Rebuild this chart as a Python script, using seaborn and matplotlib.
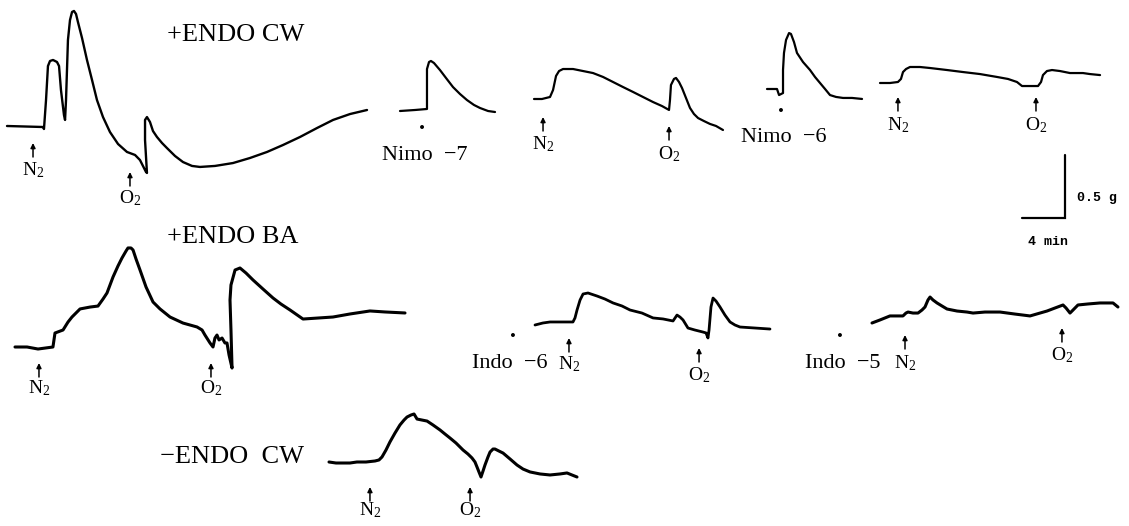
import numpy as np
import pandas as pd
import matplotlib
matplotlib.use("Agg")
import matplotlib.pyplot as plt
import seaborn as sns

# ---------------- data (time in min, tension change in g) ----------------
# +ENDO CW, control hypoxia response
A_t = [0, 3.35, 3.44, 3.63, 3.81, 4.00, 4.28, 4.65, 4.84, 5.02, 5.30, 5.40, 5.49, 5.67, 5.86, 6.05,
       6.23, 6.42, 6.60, 6.98, 7.44, 7.91, 8.37, 8.93, 9.58, 10.33, 11.16, 11.91, 12.37, 12.93, 13.02,
       12.84, 12.84, 13.02, 13.30, 13.58, 13.95, 14.42, 14.88, 15.63, 16.37, 17.21, 17.95, 19.35,
       21.02, 22.60, 24.19, 25.67, 27.26, 28.84, 30.33, 31.91, 33.49]
A_g = [0, -0.008, -0.024, 0.206, 0.476, 0.516, 0.524, 0.508, 0.476, 0.286, 0.087, 0.048, 0.206,
       0.683, 0.841, 0.905, 0.913, 0.889, 0.825, 0.698, 0.524, 0.365, 0.206, 0.071, -0.048, -0.143,
       -0.206, -0.230, -0.270, -0.365, -0.373, -0.111, 0.048, 0.071, 0.032, -0.040, -0.087, -0.135,
       -0.175, -0.238, -0.286, -0.317, -0.325, -0.317, -0.294, -0.254, -0.206, -0.151, -0.087,
       -0.016, 0.048, 0.095, 0.127]
A_events = {"N2": 2.42, "O2": 11.44}

# Nimodipine 1e-7 addition
B_t = [0, 1.40, 2.51, 2.51, 2.51, 2.70, 2.88, 3.16, 3.72, 4.28, 4.93, 5.58, 6.23, 6.88, 7.44, 8.19, 8.84]
B_g = [0, 0.008, 0.016, 0.167, 0.333, 0.389, 0.397, 0.381, 0.325, 0.262, 0.190, 0.135, 0.087,
       0.048, 0.024, 0.0, -0.008]
B_drug = 2.05

# hypoxia in presence of Nimo -7
C_t = [0, 0.74, 1.49, 1.77, 2.05, 2.33, 2.70, 3.63, 4.56, 5.49, 6.42, 7.35, 8.28, 9.21, 10.14,
       11.07, 11.91, 12.56, 12.65, 12.74, 13.02, 13.21, 13.49, 13.77, 14.14, 14.51, 14.88, 15.26,
       15.81, 16.37, 16.93, 17.58]
C_g = [0, 0, 0.016, 0.071, 0.183, 0.222, 0.238, 0.238, 0.222, 0.206, 0.175, 0.135, 0.095, 0.056,
       0.016, -0.024, -0.056, -0.087, -0.008, 0.111, 0.159, 0.167, 0.135, 0.087, 0.008, -0.071,
       -0.119, -0.151, -0.175, -0.198, -0.214, -0.246]
C_events = {"N2": 0.84, "O2": 12.56}

# Nimodipine 1e-6 addition
D_t = [0, 0.93, 1.12, 1.49, 1.49, 1.58, 1.77, 2.05, 2.23, 2.51, 2.79, 3.35, 4.00, 4.47, 4.93,
       5.40, 5.86, 6.42, 7.07, 7.91, 8.84]
D_g = [0, 0, -0.048, -0.032, 0.151, 0.286, 0.389, 0.444, 0.437, 0.373, 0.286, 0.214, 0.151,
       0.095, 0.048, 0, -0.048, -0.063, -0.071, -0.071, -0.079]
D_drug = 1.30

# hypoxia in presence of Nimo -6
E_t = [0, 0.93, 1.67, 1.95, 2.14, 2.42, 2.79, 3.72, 4.65, 6.23, 7.72, 9.30, 10.88, 11.91, 12.74,
       13.21, 13.95, 14.70, 14.98, 15.16, 15.53, 16.00, 16.74, 17.67, 18.88, 19.53, 20.47]
E_g = [0, 0, 0.008, 0.032, 0.087, 0.111, 0.127, 0.127, 0.119, 0.103, 0.087, 0.071, 0.048, 0.032,
       0.008, -0.024, -0.024, -0.024, 0.008, 0.063, 0.095, 0.103, 0.095, 0.079, 0.079, 0.071, 0.063]
E_events = {"N2": 1.67, "O2": 14.51}

# +ENDO BA, control hypoxia response
F_t = [0, 1.12, 2.14, 3.53, 3.72, 4.47, 4.93, 5.30, 6.05, 6.98, 7.72, 8.19, 8.56, 9.12, 9.58,
       9.95, 10.33, 10.51, 10.79, 10.98, 11.26, 11.63, 12.19, 12.84, 13.49, 14.42, 15.63, 16.93,
       17.40, 17.67, 18.14, 18.42, 18.60, 18.79, 18.98, 19.26, 19.53, 19.72, 19.91, 20.19, 20.09,
       20.00, 20.09, 20.47, 20.93, 21.49, 22.14, 23.07, 24.00, 24.74, 25.58, 26.79, 28.19, 29.58,
       31.16, 33.02, 34.42, 36.28]
F_g = [0, 0, -0.016, 0, 0.111, 0.135, 0.198, 0.238, 0.302, 0.317, 0.325, 0.381, 0.429, 0.556,
       0.643, 0.706, 0.762, 0.786, 0.786, 0.770, 0.698, 0.611, 0.476, 0.357, 0.302, 0.238, 0.190,
       0.159, 0.135, 0.095, 0.032, 0, 0.071, 0.095, 0.056, 0.071, 0.032, 0.032, -0.063, -0.167,
       0.135, 0.373, 0.492, 0.611, 0.627, 0.587, 0.532, 0.460, 0.389, 0.341, 0.294, 0.222, 0.230,
       0.238, 0.262, 0.286, 0.278, 0.270]
F_events = {"N2": 2.23, "O2": 18.23}

# hypoxia in presence of Indo -6
G_t = [0, 0.74, 1.40, 2.51, 3.53, 3.72, 3.91, 4.19, 4.47, 4.93, 5.77, 6.51, 7.26, 8.09, 8.84,
       9.95, 10.98, 11.91, 12.84, 13.21, 13.49, 13.77, 14.23, 14.88, 15.63, 15.91, 16.09, 16.19,
       16.37, 16.56, 16.84, 17.21, 17.67, 18.14, 18.60, 19.07, 20.47, 21.86]
G_g = [0, 0.016, 0.024, 0.024, 0.024, 0.056, 0.119, 0.198, 0.246, 0.254, 0.230, 0.206, 0.175,
       0.151, 0.119, 0.095, 0.056, 0.048, 0.032, 0.079, 0.063, 0.040, -0.024, -0.040, -0.056,
       -0.063, -0.103, -0.040, 0.143, 0.214, 0.190, 0.143, 0.079, 0.024, 0, -0.016, -0.024, -0.032]
G_events = {"N2": 3.16, "O2": 15.26}
G_drug = -2.05

# hypoxia in presence of Indo -5
H_t = [0, 0.74, 1.67, 2.33, 2.88, 3.16, 3.35, 3.81, 4.28, 4.65, 4.93, 5.21, 5.40, 5.67, 6.05,
       6.51, 6.98, 7.91, 8.84, 9.40, 10.51, 11.91, 13.30, 14.70, 15.63, 16.28, 17.02, 17.77, 18.05,
       18.42, 18.70, 19.16, 20.09, 21.21, 22.42, 22.88]
H_g = [0, 0.024, 0.056, 0.056, 0.056, 0.079, 0.087, 0.079, 0.079, 0.103, 0.127, 0.183, 0.206,
       0.183, 0.159, 0.135, 0.111, 0.095, 0.087, 0.079, 0.087, 0.087, 0.071, 0.056, 0.079, 0.095,
       0.119, 0.143, 0.119, 0.079, 0.103, 0.143, 0.151, 0.159, 0.159, 0.127]
H_events = {"N2": 3.07, "O2": 17.67}
H_drug = -2.98

# -ENDO CW, control hypoxia response
I_t = [0, 0.65, 1.30, 1.95, 2.60, 3.44, 4.28, 4.65, 4.93, 5.30, 5.67, 6.14, 6.60, 6.98, 7.26,
       7.63, 7.91, 8.19, 8.65, 9.12, 9.67, 10.33, 10.79, 11.26, 11.81, 12.47, 12.93, 13.30, 13.58,
       13.77, 13.95, 14.14, 14.33, 14.51, 14.79, 14.98, 15.26, 15.44, 15.81, 16.19, 16.84, 17.49,
       18.05, 18.70, 19.63, 20.56, 21.49, 22.14, 22.60, 23.07]
I_g = [0, -0.008, -0.008, -0.008, 0, 0, 0.008, 0.016, 0.040, 0.095, 0.159, 0.230, 0.294, 0.333,
       0.357, 0.373, 0.381, 0.341, 0.333, 0.325, 0.294, 0.254, 0.222, 0.190, 0.151, 0.095, 0.063,
       0.032, 0, -0.040, -0.079, -0.119, -0.071, -0.024, 0.040, 0.079, 0.103, 0.103, 0.087, 0.071,
       0.024, -0.024, -0.056, -0.079, -0.095, -0.103, -0.095, -0.087, -0.103, -0.119]
I_events = {"N2": 3.81, "O2": 13.12}

group_titles = ["+ENDO CW", "+ENDO BA", "\u2212ENDO  CW"]
drug_labels = {"B": "Nimo  \u22127", "D": "Nimo  \u22126", "G": "Indo  \u22126", "H": "Indo  \u22125"}
scale_min = 4
scale_g = 0.5

# ---------------- layout (pixels) ----------------
W, H = 1129, 526
PX_PER_MIN = 43 / 4.0
PX_PER_G = 63 / 0.5

traces = {
    "A": dict(t=A_t, g=A_g, origin=(7, 126), lw=1.7),
    "B": dict(t=B_t, g=B_g, origin=(400, 111), lw=1.6),
    "C": dict(t=C_t, g=C_g, origin=(534, 99), lw=1.6),
    "D": dict(t=D_t, g=D_g, origin=(767, 89), lw=1.6),
    "E": dict(t=E_t, g=E_g, origin=(880, 83), lw=1.6),
    "F": dict(t=F_t, g=F_g, origin=(15, 347), lw=2.2),
    "G": dict(t=G_t, g=G_g, origin=(535, 325), lw=2.0),
    "H": dict(t=H_t, g=H_g, origin=(872, 323), lw=2.2),
    "I": dict(t=I_t, g=I_g, origin=(329, 462), lw=2.2),
}
# event arrows: (name, time, arrow tip y, label y)
events = {
    "A": [("N2", A_events["N2"], 143, 170), ("O2", A_events["O2"], 172, 198)],
    "C": [("N2", C_events["N2"], 117, 144), ("O2", C_events["O2"], 126, 154)],
    "E": [("N2", E_events["N2"], 97, 125), ("O2", E_events["O2"], 97, 125)],
    "F": [("N2", F_events["N2"], 363, 388), ("O2", F_events["O2"], 363, 388)],
    "G": [("N2", G_events["N2"], 338, 364), ("O2", G_events["O2"], 348, 375)],
    "H": [("N2", H_events["N2"], 335, 363), ("O2", H_events["O2"], 328, 355)],
    "I": [("N2", I_events["N2"], 487, 510), ("O2", I_events["O2"], 487, 510)],
}
drug_marks = {  # (time, dot y, label centre x, label y)
    "B": (B_drug, 127, 425, 155),
    "D": (D_drug, 110, 784, 137),
    "G": (G_drug, 335, 510, 363),
    "H": (H_drug, 335, 843, 363),
}

sns.set_theme(style="white")
plt.rcParams["font.family"] = ["Liberation Serif", "DejaVu Serif"]
plt.rcParams["mathtext.fontset"] = "custom"
plt.rcParams["mathtext.rm"] = "Liberation Serif"
plt.rcParams["mathtext.default"] = "rm"
plt.rcParams["text.color"] = "black"

fig = plt.figure(figsize=(W / 100, H / 100), dpi=100)
ax = fig.add_axes([0, 0, 1, 1])
ax.set_xlim(0, W)
ax.set_ylim(H, 0)
ax.axis("off")

rows = []
for key, tr in traces.items():
    x0, y0 = tr["origin"]
    for t, g in zip(tr["t"], tr["g"]):
        rows.append((key, x0 + t * PX_PER_MIN, y0 - g * PX_PER_G))
df = pd.DataFrame(rows, columns=["trace", "x", "y"])

for key, tr in traces.items():
    sub = df[df["trace"] == key]
    sns.lineplot(data=sub, x="x", y="y", estimator=None, sort=False, color="black",
                 linewidth=tr["lw"], solid_joinstyle="round", solid_capstyle="round", ax=ax)

label_txt = {"N2": "N$_2$", "O2": "O$_2$"}
for key, evs in events.items():
    x0, _ = traces[key]["origin"]
    for name, t, tip, ly in evs:
        x = x0 + t * PX_PER_MIN
        ax.annotate("", xy=(x, tip), xytext=(x, tip + 14),
                    arrowprops=dict(arrowstyle="-|>", lw=1.1, color="black",
                                    mutation_scale=7, shrinkA=0, shrinkB=0))
        ax.text(x, ly, label_txt[name], ha="center", va="center", fontsize=14, color="black")

dot_rows = []
for key, (t, dy, lx, ly) in drug_marks.items():
    x0, _ = traces[key]["origin"]
    dot_rows.append((x0 + t * PX_PER_MIN, dy))
    ax.text(lx, ly, drug_labels[key], ha="center", va="center", fontsize=16, color="black")
dots = pd.DataFrame(dot_rows, columns=["x", "y"])
sns.scatterplot(data=dots, x="x", y="y", color="black", s=8, edgecolor="none", ax=ax)

ax.text(167, 35, group_titles[0], ha="left", va="center", fontsize=19, color="black")
ax.text(167, 237, group_titles[1], ha="left", va="center", fontsize=19, color="black")
ax.text(160, 457, group_titles[2], ha="left", va="center", fontsize=19, color="black")

# scale bar
sx, sy = 1065, 218
ax.plot([sx - scale_min * PX_PER_MIN, sx, sx], [sy, sy, sy - scale_g * PX_PER_G],
        color="black", lw=1.6, solid_joinstyle="miter")
ax.text(sx + 12, sy - 20, f"{scale_g} g", ha="left", va="center", fontsize=9.5,
        family="Liberation Mono", weight="bold", color="black")
ax.text(sx - scale_min * PX_PER_MIN / 2 + 5, sy + 24, f"{scale_min} min", ha="center",
        va="center", fontsize=9.5, family="Liberation Mono", weight="bold", color="black")

fig.savefig("out.png", dpi=100, facecolor="white")
